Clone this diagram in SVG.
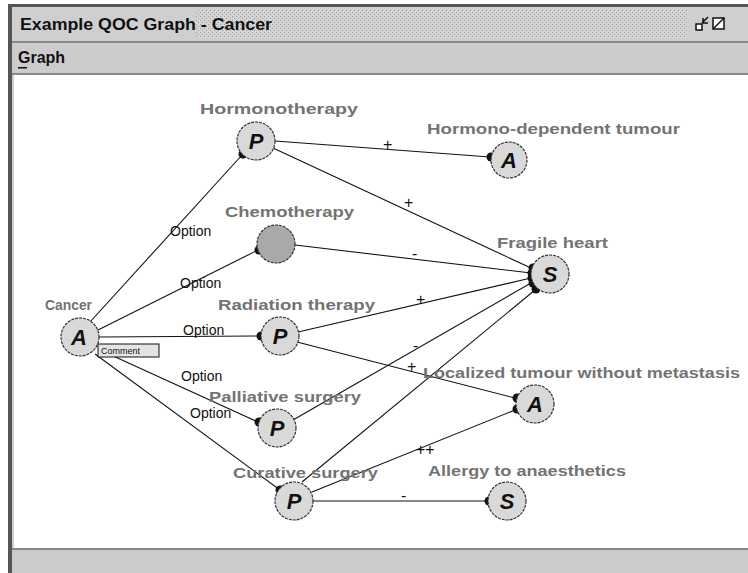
<svg xmlns="http://www.w3.org/2000/svg" width="748" height="573" viewBox="0 0 748 573">
<defs>
<pattern id="hatch" width="4" height="4" patternUnits="userSpaceOnUse">
<rect width="4" height="4" fill="#d4d4d4"/>
<rect x="0" y="0" width="1" height="1" fill="#9a9a9a"/>
<rect x="2" y="2" width="1" height="1" fill="#9a9a9a"/>
</pattern>
</defs>
<style>
.node circle{fill:#d9d9d9;stroke:#333;stroke-width:1.2;stroke-dasharray:3 1}
.icon{font-family:"Liberation Sans",Arial,sans-serif;font-weight:bold;font-style:italic;font-size:22px;fill:#111;text-anchor:middle}
.lbl{font-family:"Liberation Sans",Arial,sans-serif;font-weight:bold;font-size:15px;fill:#737373}
.opt{font-family:"Liberation Sans",Arial,sans-serif;font-size:14px;fill:#111}
.sign{font-family:"Liberation Sans",Arial,sans-serif;font-size:16px;fill:#111}
.edges line{stroke:#111;stroke-width:1.1}
.dot{fill:#111}
</style>
<!-- window frame -->
<rect x="0" y="0" width="748" height="573" fill="#ffffff"/>
<rect x="8" y="4" width="740" height="569" fill="#cccccc"/>
<rect x="8" y="4" width="740" height="3" fill="#555"/>
<rect x="8" y="4" width="4" height="569" fill="#555"/>
<rect x="12" y="7" width="736" height="34" fill="#cfcfcf"/>
<rect x="196" y="10" width="492" height="28" fill="url(#hatch)"/>
<text x="20" y="30" font-family="Liberation Sans,Arial,sans-serif" font-weight="bold" font-size="16" fill="#111" textLength="252" lengthAdjust="spacingAndGlyphs">Example QOC Graph - Cancer</text>
<g fill="none" stroke="#111" stroke-width="1.5">
<rect x="696" y="24" width="6" height="6" fill="#fff"/>
<path d="M702 23 L708 17 M703 18 L703 23 L708 23"/>
<rect x="713" y="18" width="11" height="11" fill="#fff"/>
<path d="M713 29 L724 18"/>
</g>
<rect x="12" y="41" width="736" height="2" fill="#888"/>
<rect x="12" y="43" width="736" height="30" fill="#cccccc"/>
<text x="18" y="63" font-family="Liberation Sans,Arial,sans-serif" font-weight="bold" font-size="16" fill="#111">Graph</text>
<rect x="18" y="67" width="9" height="1.5" fill="#111"/>
<rect x="12" y="73" width="736" height="2" fill="#888"/>
<rect x="14" y="75" width="734" height="473" fill="#ffffff"/>
<rect x="12" y="548" width="736" height="2" fill="#888"/>
<rect x="12" y="550" width="736" height="23" fill="#cbcbcb"/>

<g class="edges" id="connectors">
<line x1="90" y1="322" x2="243" y2="154"/>
<line x1="98" y1="330" x2="258" y2="250"/>
<line x1="99" y1="337" x2="260" y2="336"/>
<line x1="111" y1="355" x2="258" y2="422"/>
<line x1="95" y1="354" x2="280" y2="490"/>
<line x1="275" y1="141" x2="490" y2="157"/>
<line x1="273" y1="148" x2="531" y2="268"/>
<line x1="295" y1="245" x2="531" y2="273"/>
<line x1="298" y1="332" x2="531" y2="278"/>
<line x1="297" y1="342" x2="515" y2="398"/>
<line x1="293" y1="420" x2="531" y2="283"/>
<line x1="302" y1="482" x2="535" y2="290"/>
<line x1="312" y1="492" x2="515" y2="410"/>
<line x1="313" y1="501" x2="487" y2="501"/>
<circle class="dot" cx="243" cy="154" r="4.5"/>
<circle class="dot" cx="259" cy="250" r="4.5"/>
<circle class="dot" cx="261" cy="336" r="4.5"/>
<circle class="dot" cx="259" cy="422" r="4.5"/>
<circle class="dot" cx="280" cy="490" r="4.5"/>
<circle class="dot" cx="491" cy="157" r="4.5"/>
<circle class="dot" cx="533" cy="268" r="4.5"/>
<circle class="dot" cx="532" cy="273" r="4.5"/>
<circle class="dot" cx="532" cy="278" r="4.5"/>
<circle class="dot" cx="533" cy="283" r="4.5"/>
<circle class="dot" cx="536" cy="289" r="4.5"/>
<circle class="dot" cx="517" cy="398" r="4.5"/>
<circle class="dot" cx="517" cy="409" r="4.5"/>
<circle class="dot" cx="489" cy="501" r="4.5"/>
<text class="opt" x="170" y="236">Option</text>
<text class="opt" x="180" y="288">Option</text>
<text class="opt" x="183" y="335">Option</text>
<text class="opt" x="181" y="381">Option</text>
<text class="opt" x="190" y="418">Option</text>
<text class="sign" x="383" y="150">+</text>
<text class="sign" x="404" y="208">+</text>
<text class="sign" x="412" y="259">-</text>
<text class="sign" x="416" y="305">+</text>
<text class="sign" x="413" y="351">-</text>
<text class="sign" x="407" y="372">+</text>
<text class="sign" x="416" y="455">++</text>
<text class="sign" x="401" y="501">-</text>
</g>

<g id="cancer" class="node">
<circle cx="80" cy="337" r="19"/>
<text class="icon" x="79" y="345">A</text>
<text class="lbl" x="45" y="310" textLength="47" lengthAdjust="spacingAndGlyphs">Cancer</text>
<rect x="98" y="344" width="61" height="13" fill="#e4e4e4" stroke="#111" stroke-width="1"/>
<text x="101" y="354" font-family="Liberation Sans,Arial,sans-serif" font-size="9" fill="#111">Comment</text>
</g>
<g id="hormonotherapy" class="node">
<circle cx="256" cy="141" r="19"/>
<text class="icon" x="256" y="149">P</text>
<text class="lbl" x="200" y="114" textLength="158" lengthAdjust="spacingAndGlyphs">Hormonotherapy</text>
</g>
<g id="hormono-dependent" class="node">
<circle cx="509" cy="160" r="18"/>
<text class="icon" x="509" y="168">A</text>
<text class="lbl" x="427" y="134" textLength="253" lengthAdjust="spacingAndGlyphs">Hormono-dependent tumour</text>
</g>
<g id="chemotherapy" class="node">
<circle cx="276" cy="244" r="19" style="fill:#a9a9a9"/>
<text class="lbl" x="225" y="217" textLength="129" lengthAdjust="spacingAndGlyphs">Chemotherapy</text>
</g>
<g id="fragile-heart" class="node">
<circle cx="550" cy="274" r="19"/>
<text class="icon" x="550" y="282">S</text>
<text class="lbl" x="497" y="248" textLength="111" lengthAdjust="spacingAndGlyphs">Fragile heart</text>
</g>
<g id="radiation" class="node">
<circle cx="280" cy="336" r="19"/>
<text class="icon" x="280" y="344">P</text>
<text class="lbl" x="218" y="310" textLength="157" lengthAdjust="spacingAndGlyphs">Radiation therapy</text>
</g>
<g id="localized" class="node">
<circle cx="535" cy="404" r="19"/>
<text class="icon" x="535" y="412">A</text>
<text class="lbl" x="423" y="378" textLength="317" lengthAdjust="spacingAndGlyphs">Localized tumour without metastasis</text>
</g>
<g id="palliative" class="node">
<circle cx="277" cy="428" r="19"/>
<text class="icon" x="277" y="436">P</text>
<text class="lbl" x="209" y="402" textLength="152" lengthAdjust="spacingAndGlyphs">Palliative surgery</text>
</g>
<g id="curative" class="node">
<circle cx="294" cy="501" r="19"/>
<text class="icon" x="294" y="509">P</text>
<text class="lbl" x="233" y="478" textLength="145" lengthAdjust="spacingAndGlyphs">Curative surgery</text>
</g>
<g id="allergy" class="node">
<circle cx="507" cy="501" r="19"/>
<text class="icon" x="507" y="509">S</text>
<text class="lbl" x="428" y="476" textLength="198" lengthAdjust="spacingAndGlyphs">Allergy to anaesthetics</text>
</g>
</svg>
